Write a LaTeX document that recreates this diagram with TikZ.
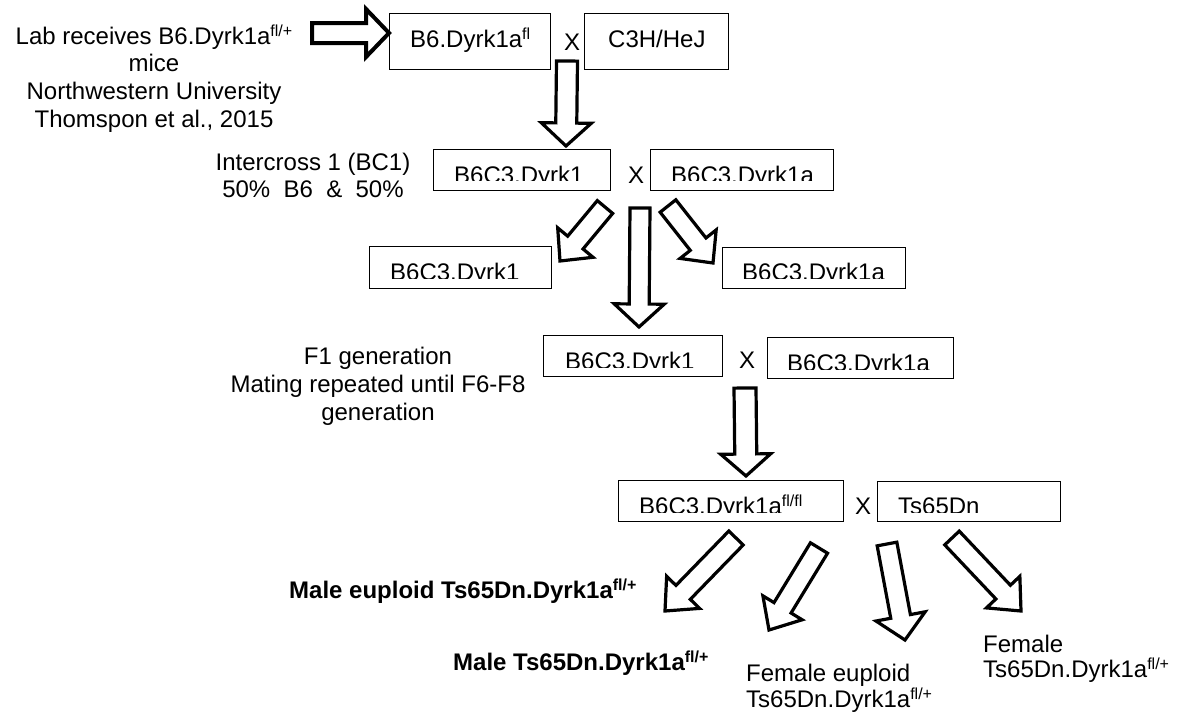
\documentclass[tikz,border=0pt]{standalone}
\usepackage{fontspec}
\setmainfont{Liberation Sans}
\usetikzlibrary{calc}
\newcommand{\sups}[1]{\raisebox{8pt}{\fontsize{16}{16}\selectfont #1}}
% #1 extra style, #2 tail, #3 tip, #4 shaft half width, #5 head half width, #6 head length
\newcommand{\fatarr}[6][]{%
  \coordinate (hb) at ($(#3)!#6!(#2)$);
  \draw[fat,#1] ($(#2)!#4!90:(#3)$) -- ($(hb)!#4!90:(#3)$) -- ($(hb)!#5!90:(#3)$) -- (#3)
    -- ($(hb)!#5!-90:(#3)$) -- ($(hb)!#4!-90:(#3)$) -- ($(#2)!#4!-90:(#3)$) -- cycle;}
\begin{document}
\begin{tikzpicture}[x=1pt,y=-1pt,
  every node/.style={inner sep=0pt},
  font=\fontsize{24}{29}\selectfont,
  box/.style={draw=black,line width=1.6pt},
  fat/.style={draw=black,fill=white,line width=3.2pt,line join=miter},
  lbl/.style={anchor=base}]
\useasboundingbox (0,0) rectangle (1179,713);

% ---------- boxes ----------
\node[box,minimum width=161pt,minimum height=56pt] (A) at (470,41.5) {};
\node[box,minimum width=144pt,minimum height=56pt] (B) at (656.5,41.5) {};
\node[box,minimum width=177pt,minimum height=41pt] (C) at (522,170) {};
\node[box,minimum width=183pt,minimum height=41pt] (D) at (742,170) {};
\node[box,minimum width=182pt,minimum height=42pt] (F) at (460.5,267.5) {};
\node[box,minimum width=183pt,minimum height=41pt] (G) at (814,268) {};
\node[box,minimum width=179pt,minimum height=41pt] (E) at (633,356) {};
\node[box,minimum width=186pt,minimum height=41pt] (H) at (860.5,358) {};
\node[box,minimum width=225pt,minimum height=41pt] (I) at (731,501) {};
\node[box,minimum width=183pt,minimum height=40pt] (J) at (969,501.5) {};

% ---------- box texts ----------
\node[anchor=base west] (tA) at (410,47) {B6.Dyrk1a\sups{fl}};
\node[anchor=base west] (tB) at (608,47) {C3H/HeJ};
\begin{scope}\clip (C.north west) rectangle (C.east |- 0,180);
  \node[anchor=base west] (tC) at (454,183) {B6C3.Dyrk1};\end{scope}
\begin{scope}\clip (D.north west) rectangle (D.east |- 0,180);
  \node[anchor=base west] (tD) at (671,183) {B6C3.Dyrk1a};\end{scope}
\begin{scope}\clip (F.north west) rectangle (F.east |- 0,278);
  \node[anchor=base west] (tF) at (390,280) {B6C3.Dyrk1};\end{scope}
\begin{scope}\clip (G.north west) rectangle (G.east |- 0,278);
  \node[anchor=base west] (tG) at (742,280) {B6C3.Dyrk1a};\end{scope}
\begin{scope}\clip (E.north west) rectangle (E.east |- 0,367);
  \node[anchor=base west] (tE) at (565,369) {B6C3.Dyrk1};\end{scope}
\begin{scope}\clip (H.north west) rectangle (H.east |- 0,369);
  \node[anchor=base west] (tH) at (787,371) {B6C3.Dyrk1a};\end{scope}
\begin{scope}\clip (I.north west) rectangle (I.east |- 0,512);
  \node[anchor=base west] (tI) at (639,514) {B6C3.Dyrk1a\sups{fl/fl}};\end{scope}
\begin{scope}\clip (J.north west) rectangle (J.east |- 0,512);
  \node[anchor=base west] (tJ) at (898,514) {Ts65Dn};\end{scope}

% ---------- cross marks ----------
\node (x1) at (572,42) {X};
\node (x2) at (636,175) {X};
\node (x3) at (747,360) {X};
\node (x4) at (863,506) {X};

% ---------- side texts (base = last line) ----------
\node[lbl,align=center,font=\fontsize{24}{27.6}\selectfont] (lab) at (154,127)
  {Lab receives B6.Dyrk1a\sups{fl/+}\\mice\\Northwestern University\\Thomspon et al., 2015};
\node[lbl,align=center,font=\fontsize{24}{27}\selectfont] (inter) at (313,197)
  {Intercross 1 (BC1)\\50\%\ \ B6\ \ \&\ \ 50\%};
\node[lbl,align=center,font=\fontsize{24}{27.6}\selectfont] (f1) at (378,420)
  {F1 generation\\Mating repeated until F6-F8\\generation};
\node[anchor=base west,font=\fontsize{24}{29}\selectfont\bfseries] (m1) at (289,598)
  {Male euploid Ts65Dn.Dyrk1a\sups{fl/+}};
\node[anchor=base west,font=\fontsize{24}{29}\selectfont\bfseries] (m2) at (453,670)
  {Male Ts65Dn.Dyrk1a\sups{fl/+}};
\node[anchor=base west,align=left,font=\fontsize{24}{24.5}\selectfont] (fe1) at (746,707)
  {Female euploid\\Ts65Dn.Dyrk1a\sups{fl/+}};
\node[anchor=base west,align=left,font=\fontsize{24}{25}\selectfont] (fe2) at (983,677)
  {Female\\Ts65Dn.Dyrk1a\sups{fl/+}};

% ---------- block arrows ----------
\coordinate (r0) at (312,33);   \coordinate (r1) at (389,33);
\coordinate (d10) at (567,61);  \coordinate (d11) at (566,146);
\coordinate (ls0) at (605,207); \coordinate (ls1) at (560,261);
\coordinate (rs0) at (668,206); \coordinate (rs1) at (713,263);
\coordinate (cl0) at (640,208); \coordinate (cl1) at (639,327);
\coordinate (d20) at (745,388); \coordinate (d21) at (746,476);
\coordinate (b10) at (736,538); \coordinate (b11) at (665,611);
\coordinate (b20) at (819,548); \coordinate (b21) at (769,630);
\coordinate (b30) at (887,544); \coordinate (b31) at (905,640);
\coordinate (b40) at (952,538); \coordinate (b41) at (1021,611);

\fatarr[line width=4pt]{r0}{r1}{10pt}{24pt}{23pt}
\fatarr{d10}{d11}{10.5pt}{25pt}{23pt}
\fatarr{ls0}{ls1}{10pt}{23pt}{24pt}
\fatarr{rs0}{rs1}{10pt}{23pt}{24pt}
\fatarr{cl0}{cl1}{10pt}{25pt}{23pt}
\fatarr{d20}{d21}{11pt}{25pt}{22pt}
\fatarr{b10}{b11}{10pt}{23pt}{26pt}
\fatarr{b20}{b21}{10pt}{23pt}{26pt}
\fatarr{b30}{b31}{10pt}{25pt}{24pt}
\fatarr{b40}{b41}{10pt}{23pt}{26pt}
\end{tikzpicture}
\end{document}
